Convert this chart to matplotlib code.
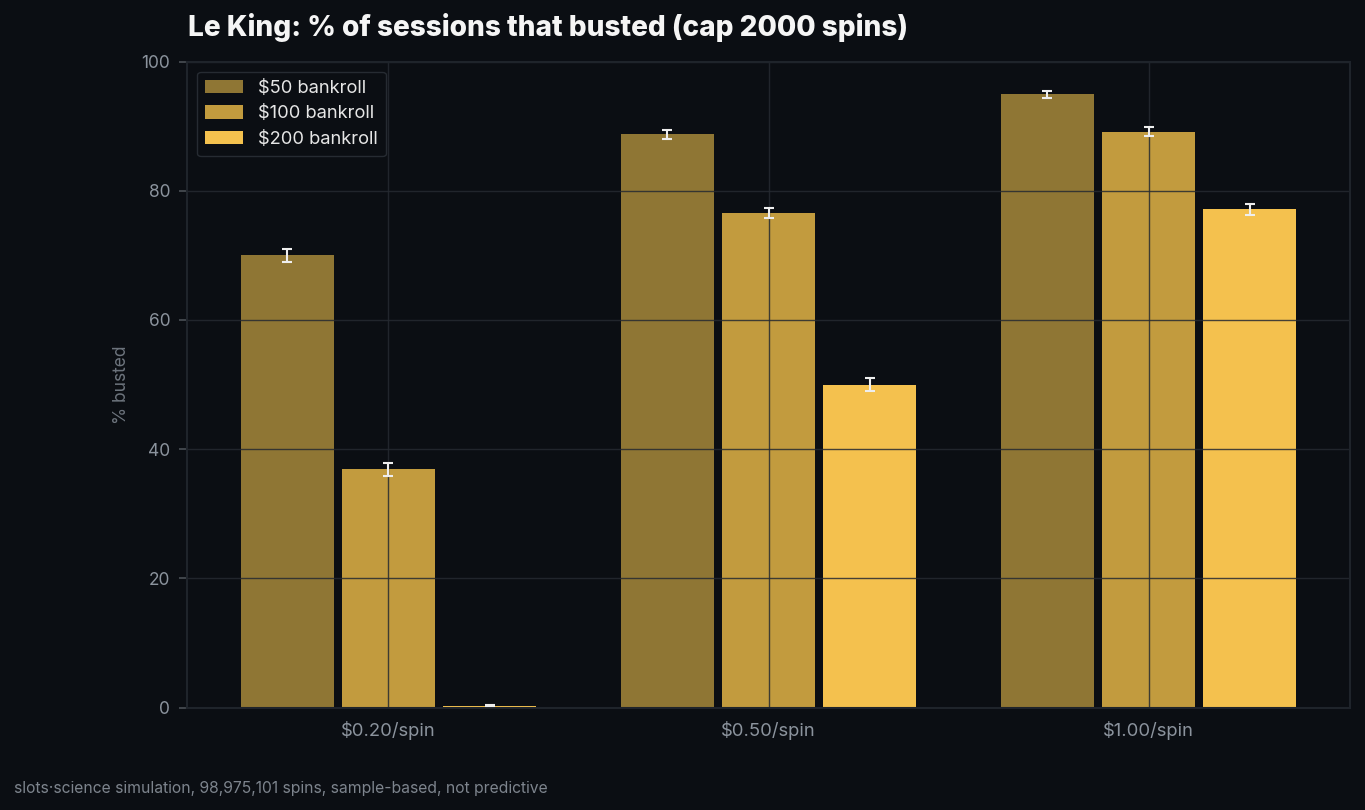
import numpy as np
import matplotlib
matplotlib.use("Agg")
import matplotlib.pyplot as plt

# data
bets = ["$0.20/spin", "$0.50/spin", "$1.00/spin"]
bankrolls = ["$50 bankroll", "$100 bankroll", "$200 bankroll"]
bust_50 = [70.0, 88.7, 94.9]
bust_100 = [36.9, 76.5, 89.1]
bust_200 = [0.3, 50.0, 77.1]
err_50 = [1.0, 0.7, 0.5]
err_100 = [1.0, 0.8, 0.7]
err_200 = [0.1, 1.0, 0.8]

BG = "#0b0e13"
GRID = "#1f242b"
MUTED = "#8b939d"
colors = ["#8f7634", "#c29b3e", "#f4c14e"]

plt.rcParams["font.family"] = ["Inter", "DejaVu Sans"]

fig = plt.figure(figsize=(13.65, 8.1), dpi=100, facecolor=BG)
ax = fig.add_axes([187 / 1365, 1 - 707.5 / 810, 1163 / 1365, 646 / 810])
ax.set_facecolor(BG)

x = np.arange(len(bets))
offset = 0.266
width = 0.246
series = [(bust_50, err_50), (bust_100, err_100), (bust_200, err_200)]
for i, (vals, errs) in enumerate(series):
    ax.bar(x + (i - 1) * offset, vals, width, color=colors[i], label=bankrolls[i],
           zorder=1,
           yerr=errs, error_kw=dict(ecolor="#eeeeee", elinewidth=1.5, capsize=3.5, capthick=1.5, zorder=4))

ax.set_xlim(-0.53, 2.53)
ax.set_ylim(0, 100)
ax.set_xticks(x)
ax.set_xticklabels(bets)
ax.set_yticks([0, 20, 40, 60, 80, 100])

# grid sits on top of the bars, faint over the background
ax.grid(True, color="#262a31", linewidth=1.0, alpha=0.85, zorder=2)
ax.set_axisbelow(False)
for s in ax.spines.values():
    s.set_color(GRID)
    s.set_linewidth(1.5)
    s.set_zorder(3)
ax.tick_params(colors=MUTED, labelsize=12.5, length=6, width=1.2, pad=6)
ax.tick_params(axis="x", length=0, pad=10, labelsize=13.3)
ax.tick_params(axis="y", color="#4a4f56")

ax.set_ylabel("% busted", color="#6d747d", fontsize=12.5, labelpad=8)

leg = ax.legend(loc="upper left", fontsize=13.2, facecolor=BG, edgecolor="#262b32",
                labelcolor="#e6e6e6", framealpha=1, handlelength=2.05, handleheight=0.75,
                handletextpad=0.8, borderpad=0.45, labelspacing=0.46, borderaxespad=0.55)
leg.set_zorder(5)

fig.text(188 / 1365, 1 - 28 / 810, "Le King: % of sessions that busted (cap 2000 spins)",
         color="#f5f5f5", fontsize=20.1, fontweight="heavy", va="center", ha="left")
fig.text(14 / 1365, 1 - 788 / 810, "slots\u00b7science simulation, 98,975,101 spins, sample-based, not predictive",
         color="#7d848d", fontsize=11.3, va="center", ha="left")

fig.savefig("out.png", dpi=100, facecolor=BG)
